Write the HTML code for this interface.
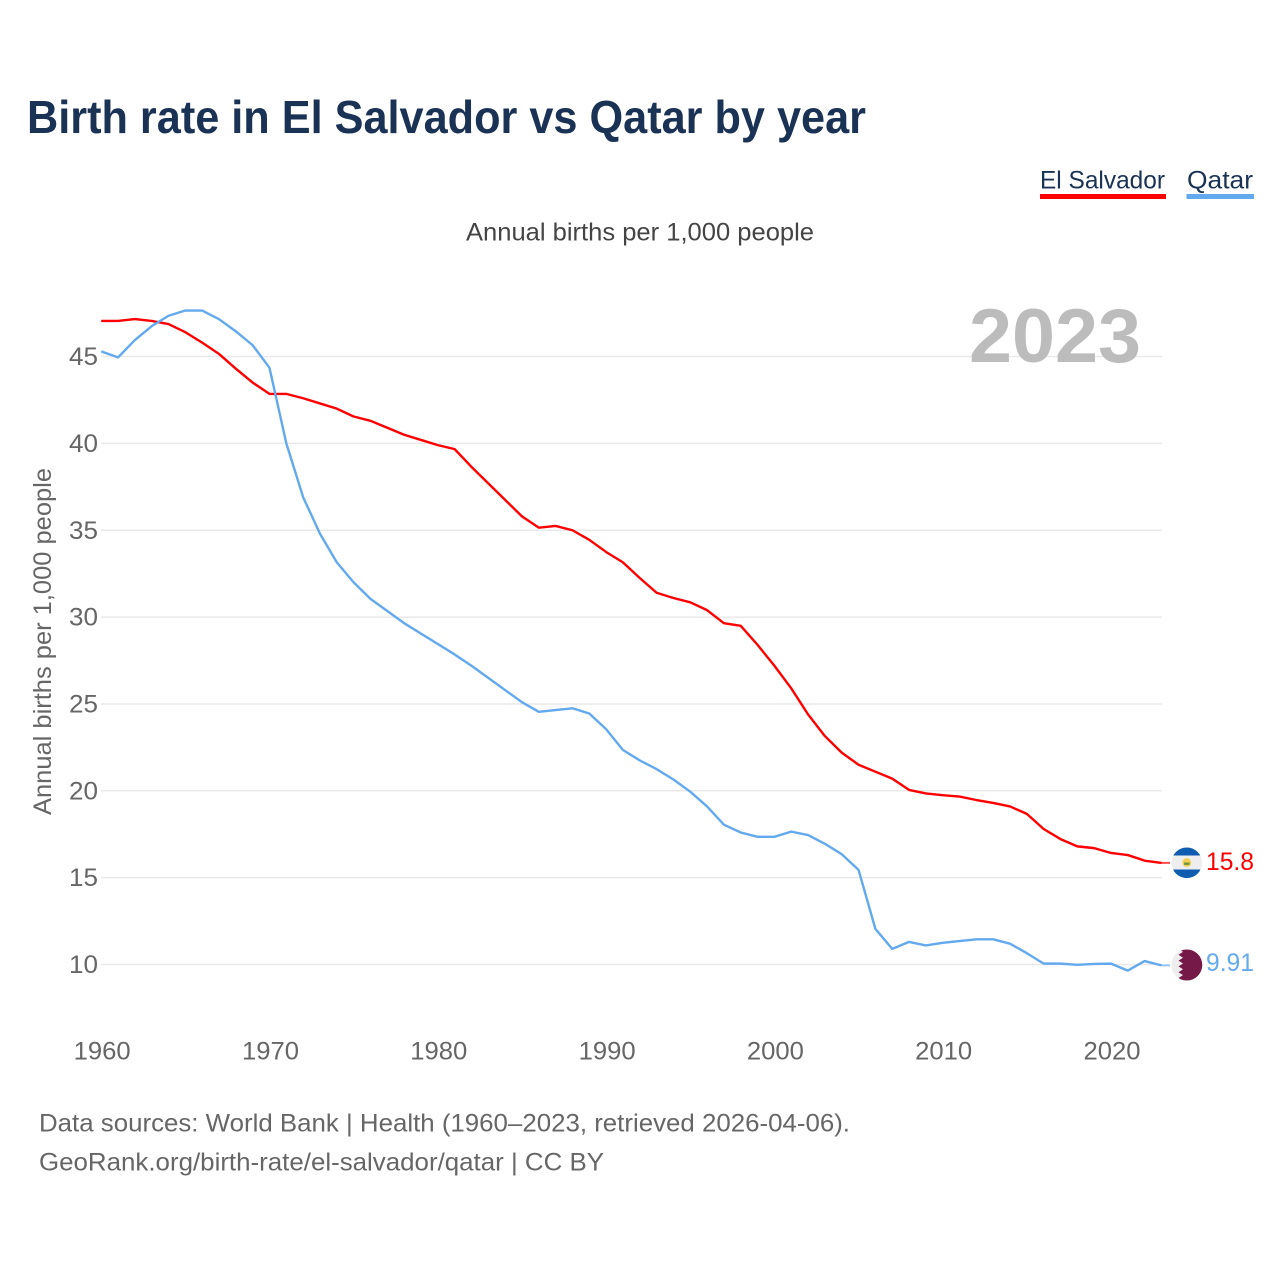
<!DOCTYPE html>
<html lang="en">
<head>
<meta charset="utf-8">
<title>Birth rate in El Salvador vs Qatar by year</title>
<style>
html,body{margin:0;padding:0;background:#fff;width:1280px;height:1280px;overflow:hidden}
svg{display:block;font-family:"Liberation Sans",sans-serif}
</style>
</head>
<body>
<svg id="chart" width="1280" height="1280" viewBox="0 0 1280 1280" xmlns="http://www.w3.org/2000/svg">
  <defs>
    <clipPath id="clip-sv"><circle cx="1186.8" cy="862.8" r="15.3"/></clipPath>
    <clipPath id="clip-qa"><circle cx="1186.8" cy="965" r="15.5"/></clipPath>
  </defs>
  <text x="27" y="133" font-size="46" font-weight="700" fill="#1a3254" textLength="839" lengthAdjust="spacingAndGlyphs">Birth rate in El Salvador vs Qatar by year</text>

  <g>
    <text x="1040" y="188.5" font-size="25" fill="#1a3254" textLength="125" lengthAdjust="spacingAndGlyphs">El Salvador</text>
    <rect x="1040" y="194" width="126" height="5" fill="#ff0000"/>
  </g>
  <g>
    <text x="1187" y="188.5" font-size="25" fill="#1a3254" textLength="66" lengthAdjust="spacingAndGlyphs">Qatar</text>
    <rect x="1186.5" y="194" width="67.5" height="5" fill="#63a9ee"/>
  </g>

  <text x="466" y="240.5" font-size="25" fill="#444" textLength="348" lengthAdjust="spacingAndGlyphs">Annual births per 1,000 people</text>
  <text transform="translate(51,815) rotate(-90)" x="0" y="0" font-size="25" fill="#666" textLength="347" lengthAdjust="spacingAndGlyphs">Annual births per 1,000 people</text>

  <g id="grid"></g>
  <g id="y-ticks"></g>
  <g id="x-ticks"></g>

  <text x="969" y="362" font-size="76" font-weight="700" fill="#bcbcbc" textLength="172" lengthAdjust="spacingAndGlyphs">2023</text>

  <g id="series"></g>

  <g clip-path="url(#clip-sv)">
    <rect x="1170" y="847" width="34" height="32" fill="#eeeeee"/>
    <rect x="1170" y="847" width="34" height="8.5" fill="#0f5cb0"/>
    <rect x="1170" y="869.5" width="34" height="10" fill="#0f5cb0"/>
    <circle cx="1186.8" cy="862.5" r="4.4" fill="#f6cf52"/>
    <rect x="1184" y="862.5" width="5.6" height="2.4" fill="#6b9a3c"/>
  </g>
  <g clip-path="url(#clip-qa)">
    <rect x="1170" y="949" width="34" height="32" fill="#eeeeee"/>
    <polygon points="1204,949 1178.5,949 1183,951.9 1178.5,954.8 1183,957.7 1178.5,960.6 1183,963.5 1178.5,966.4 1183,969.3 1178.5,972.2 1183,975.1 1178.5,978 1183,981 1204,981" fill="#751a48"/>
  </g>
  <text id="label-sv" x="1206" y="870" font-size="25" fill="#ff0000" textLength="48" lengthAdjust="spacingAndGlyphs"></text>
  <text id="label-qa" x="1206" y="971" font-size="25" fill="#63a9ee" textLength="48" lengthAdjust="spacingAndGlyphs"></text>

  <text x="39" y="1131.5" font-size="25" fill="#666" textLength="811" lengthAdjust="spacingAndGlyphs">Data sources: World Bank | Health (1960–2023, retrieved 2026-04-06).</text>
  <text x="39" y="1170.5" font-size="25" fill="#666" textLength="565" lengthAdjust="spacingAndGlyphs">GeoRank.org/birth-rate/el-salvador/qatar | CC BY</text>
</svg>
<script>
const startYear = 1960;
const yTickValues = [10, 15, 20, 25, 30, 35, 40, 45];
const xTickYears = [1960, 1970, 1980, 1990, 2000, 2010, 2020];
const elSalvadorValues = [47.05,47.05,47.16,47.05,46.87,46.4,45.8,45.15,44.3,43.5,42.85,42.85,42.6,42.3,42.0,41.55,41.3,40.9,40.5,40.2,39.9,39.67,38.65,37.7,36.75,35.8,35.15,35.25,35.0,34.45,33.75,33.15,32.25,31.4,31.1,30.85,30.4,29.65,29.5,28.4,27.2,25.9,24.4,23.15,22.2,21.5,21.1,20.7,20.05,19.85,19.75,19.67,19.47,19.3,19.1,18.67,17.8,17.22,16.8,16.7,16.42,16.3,15.98,15.85];
const qatarValues = [45.3,44.95,45.95,46.75,47.35,47.65,47.65,47.15,46.45,45.65,44.35,40.0,36.9,34.8,33.15,32.0,31.05,30.35,29.65,29.05,28.45,27.85,27.2,26.5,25.8,25.1,24.55,24.65,24.75,24.45,23.55,22.35,21.75,21.25,20.65,19.95,19.1,18.05,17.6,17.35,17.35,17.65,17.45,16.95,16.35,15.45,12.05,10.9,11.3,11.1,11.25,11.35,11.45,11.45,11.2,10.65,10.05,10.05,9.98,10.03,10.05,9.65,10.2,9.95];
const elSalvadorLabel = "15.8";
const qatarLabel = "9.91";

const SVG_NS = "http://www.w3.org/2000/svg";
function xScale(year) { return 101.2 + (year - 1960) * 16.83; }
function yScale(v) { return 964.5 - (v - 10) * 17.37; }

const grid = document.getElementById("grid");
const yTicks = document.getElementById("y-ticks");
const xTicks = document.getElementById("x-ticks");
const series = document.getElementById("series");

yTickValues.forEach(function (v) {
  const line = document.createElementNS(SVG_NS, "line");
  
  
  line.setAttribute("x1", 101);
  line.setAttribute("x2", 1162);
  line.setAttribute("y1", yScale(v));
  line.setAttribute("y2", yScale(v));
  line.setAttribute("stroke", "#e9e9e9");
  line.setAttribute("stroke-width", "1.5");
  grid.appendChild(line);

  const t = document.createElementNS(SVG_NS, "text");
  
  
  t.setAttribute("x", 69);
  t.setAttribute("y", yScale(v) + 8.5);
  t.setAttribute("font-size", "25");
  t.setAttribute("fill", "#666");
  t.setAttribute("textLength", "29");
  t.setAttribute("lengthAdjust", "spacingAndGlyphs");
  t.textContent = String(v);
  yTicks.appendChild(t);
});

xTickYears.forEach(function (yr) {
  const t = document.createElementNS(SVG_NS, "text");
  
  
  t.setAttribute("x", xScale(yr) - 27.5);
  t.setAttribute("y", 1059.5);
  t.setAttribute("font-size", "25");
  t.setAttribute("fill", "#666");
  t.setAttribute("textLength", "57");
  t.setAttribute("lengthAdjust", "spacingAndGlyphs");
  t.textContent = String(yr);
  xTicks.appendChild(t);
});

function buildPoints(values) {
  return values.map(function (v, i) {
    return xScale(startYear + i).toFixed(2) + "," + yScale(v).toFixed(2);
  }).join(" ");
}

const lineSv = document.createElementNS(SVG_NS, "polyline");


lineSv.setAttribute("points", buildPoints(elSalvadorValues));
lineSv.setAttribute("fill", "none");
lineSv.setAttribute("stroke", "#ff0000");
lineSv.setAttribute("stroke-width", "2.4");
lineSv.setAttribute("stroke-linejoin", "round");
series.appendChild(lineSv);

const lineQa = document.createElementNS(SVG_NS, "polyline");


lineQa.setAttribute("points", buildPoints(qatarValues));
lineQa.setAttribute("fill", "none");
lineQa.setAttribute("stroke", "#63a9ee");
lineQa.setAttribute("stroke-width", "2.4");
lineQa.setAttribute("stroke-linejoin", "round");
series.appendChild(lineQa);

const lastIndex = elSalvadorValues.length - 1;
const leaderSv = document.createElementNS(SVG_NS, "line");


leaderSv.setAttribute("x1", xScale(startYear + lastIndex));
leaderSv.setAttribute("x2", 1170);
leaderSv.setAttribute("y1", yScale(elSalvadorValues[lastIndex]));
leaderSv.setAttribute("y2", yScale(elSalvadorValues[lastIndex]));
leaderSv.setAttribute("stroke", "#ff0000");
leaderSv.setAttribute("stroke-width", "2");
leaderSv.setAttribute("stroke-opacity", "0.7");
series.appendChild(leaderSv);

const leaderQa = document.createElementNS(SVG_NS, "line");


leaderQa.setAttribute("x1", xScale(startYear + lastIndex));
leaderQa.setAttribute("x2", 1170);
leaderQa.setAttribute("y1", yScale(qatarValues[lastIndex]));
leaderQa.setAttribute("y2", yScale(qatarValues[lastIndex]));
leaderQa.setAttribute("stroke", "#63a9ee");
leaderQa.setAttribute("stroke-width", "2");
leaderQa.setAttribute("stroke-opacity", "0.7");
series.appendChild(leaderQa);

document.getElementById("label-sv").textContent = elSalvadorLabel;
document.getElementById("label-qa").textContent = qatarLabel;
</script>
</body>
</html>
